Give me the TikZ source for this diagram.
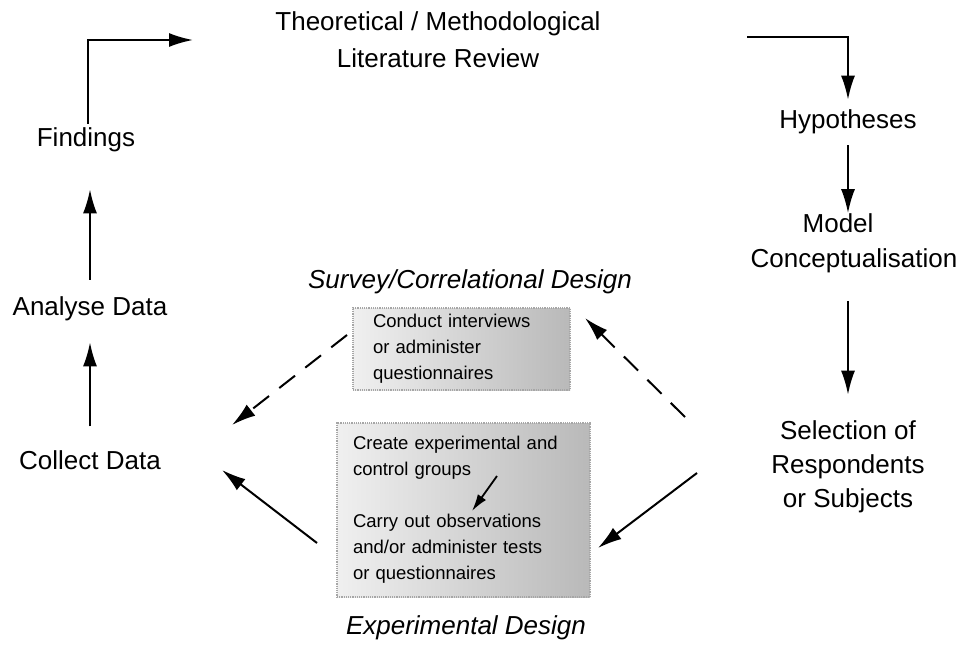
\documentclass[tikz,border=0pt]{standalone}
\usepackage{fontspec}
\setmainfont{Liberation Sans}
\usetikzlibrary{arrows.meta}
\begin{document}
\begin{tikzpicture}[x=1pt,y=-1pt,
  lbl/.style={font=\fontsize{26}{35}\selectfont, inner sep=0pt, align=center},
  ital/.style={font=\fontsize{26}{32}\selectfont\itshape, inner sep=0pt},
  boxst/.style={left color=gray!12, right color=gray!55, draw=gray!70, densely dotted, line width=1.2pt,
     font=\fontsize{18.5}{26}\selectfont, align=left, anchor=center},
  arr/.style={line width=2pt, -{Latex[length=24pt,width=14pt]}},
  darr/.style={arr, dash pattern=on 20pt off 13pt},
  small/.style={line width=1.8pt, -{Latex[length=17pt,width=10pt]}}
]
\useasboundingbox (0,0) rectangle (962,645);

% text nodes
\node[lbl, font=\fontsize{26}{37}\selectfont] (title) at (438,40) {Theoretical / Methodological\\Literature Review};
\node[lbl] (hyp) at (848,122) {Hypotheses};
\node[lbl, align=left] (model) at (854,243) {\hspace*{52pt}Model\\Conceptualisation};
\node[lbl, font=\fontsize{26}{34}\selectfont] (sel) at (848,467) {Selection of\\Respondents\\or Subjects};
\node[lbl] (find) at (86,140) {Findings};
\node[lbl] (anal) at (90,309) {Analyse Data};
\node[lbl] (coll) at (90,460) {Collect Data};
\node[ital] (survey) at (470,282) {Survey/Correlational Design};
\node[ital] (exper) at (466,628) {Experimental Design};

% boxes
\node[boxst, text width=177pt, inner xsep=20pt, minimum height=82pt] (b1) at (461.5,349)
  {Conduct interviews\\or administer\\questionnaires};
\node[boxst, text width=221pt, inner xsep=16pt, minimum height=174pt] (b2) at (463.5,510)
  {Create experimental and\\control groups\\[26pt]Carry out observations\\and/or administer tests\\or questionnaires};

% named free ends
\coordinate (tin) at (193,40);
\coordinate (tout) at (747,37);
\coordinate (ds1) at (347,335);
\coordinate (de1) at (232,425);
\coordinate (ss1) at (317,543);
\coordinate (se1) at (222,470);
\coordinate (ds2) at (685,417);
\coordinate (de2) at (585,318);
\coordinate (ss2) at (697,473);
\coordinate (se2) at (598,548);
\coordinate (ia) at (497,476);
\coordinate (ib) at (472,511);

% connectors
\draw[arr] ([xshift=2pt,yshift=4pt]find.north) |- (tin);
\draw[arr] (tout) -| ([yshift=10pt]hyp.north);
\draw[arr, shorten <=11pt] (hyp.south) -- (hyp.south |- model.north);
\draw[arr, shorten <=28pt, shorten >=26pt] (hyp.south |- model.south) -- (hyp.south |- sel.north);
\draw[arr, shorten <=17pt, shorten >=37pt] (anal.north) -- (anal.north |- find.south);
\draw[arr, shorten <=24pt, shorten >=21pt] (coll.north) -- (anal.north |- anal.south);
\draw[darr] (ds1) -- (de1);
\draw[arr] (ss1) -- (se1);
\draw[darr] (ds2) -- (de2);
\draw[arr] (ss2) -- (se2);
\draw[small] (ia) -- (ib);
\end{tikzpicture}
\end{document}
